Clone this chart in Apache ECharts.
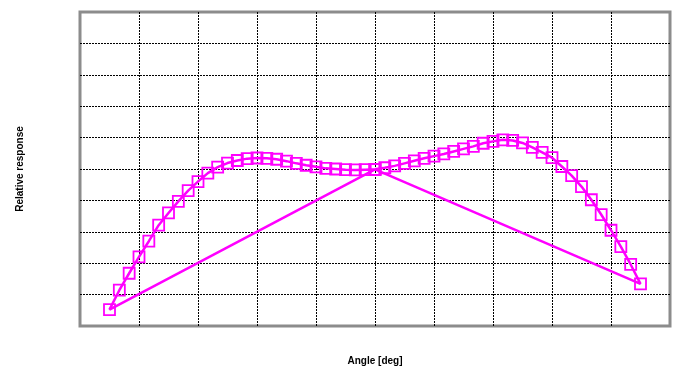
<!DOCTYPE html>
<html>
<head>
<meta charset="utf-8">
<script src="https://cdn.jsdelivr.net/npm/echarts@6/dist/echarts.min.js"></script>
<style>
  html, body { margin: 0; padding: 0; background: #fff; }
  #chart { width: 678px; height: 367px; }
</style>
</head>
<body>
<div id="chart"></div>
<script>
// sweep in recorded order: starts at 0 deg, jumps to -81, sweeps to +81, returns to 0
var angles = [0,
    -81, -78, -75, -72, -69, -66, -63, -60, -57, -54,
    -51, -48, -45, -42, -39, -36, -33, -30, -27, -24,
    -21, -18, -15, -12, -9, -6, -3, 0, 3, 6,
    9, 12, 15, 18, 21, 24, 27, 30, 33, 36,
    39, 42, 45, 48, 51, 54, 57, 60, 63, 66,
    69, 72, 75, 78, 81,
    0];
var response = [0.499,
    0.052, 0.114, 0.168, 0.220, 0.270, 0.321, 0.360, 0.397, 0.431, 0.460,
    0.487, 0.506, 0.519, 0.527, 0.533, 0.535, 0.534, 0.531, 0.525, 0.518,
    0.512, 0.507, 0.502, 0.500, 0.498, 0.497, 0.498, 0.499, 0.504, 0.510,
    0.518, 0.526, 0.534, 0.541, 0.548, 0.556, 0.564, 0.572, 0.582, 0.588,
    0.593, 0.591, 0.583, 0.569, 0.553, 0.536, 0.508, 0.479, 0.444, 0.402,
    0.355, 0.305, 0.253, 0.196, 0.134,
    0.499];

initChart();

function initChart() {
    var dom = document.getElementById("chart");
    var myChart = echarts.init(dom, null, { renderer: 'canvas' });

    var data = [];
    for (var i = 0; i < angles.length; i++) {
        data.push([angles[i], response[i]]);
    }

    var gridLine = {
        show: true,
        showMinLine: false,
        showMaxLine: false,
        lineStyle: { color: '#000', width: 1, type: [2, 1] }
    };

    var option = {
        animation: false,
        backgroundColor: '#fff',
        grid: {
            left: 80,
            right: 8,
            top: 12,
            bottom: 41,
            outerBoundsMode: 'none',
            containLabel: false,
            show: true,
            borderColor: '#8c8c8c',
            borderWidth: 3,
            backgroundColor: 'transparent'
        },
        xAxis: {
            type: 'value',
            min: -90,
            max: 90,
            interval: 18,
            name: 'Angle [deg]',
            nameLocation: 'middle',
            nameGap: 30,
            nameTextStyle: {
                fontFamily: 'Liberation Sans',
                fontWeight: 'bold',
                fontSize: 10,
                color: '#000'
            },
            axisLine: { show: false },
            axisTick: { show: false },
            axisLabel: { show: false },
            splitLine: gridLine
        },
        yAxis: {
            type: 'value',
            min: 0,
            max: 1,
            interval: 0.1,
            name: 'Relative response',
            nameLocation: 'middle',
            nameGap: 55,
            nameTextStyle: {
                fontFamily: 'Liberation Sans',
                fontWeight: 'bold',
                fontSize: 10,
                color: '#000'
            },
            axisLine: { show: false },
            axisTick: { show: false },
            axisLabel: { show: false },
            splitLine: gridLine
        },
        series: [
            {
                type: 'line',
                data: data,
                symbol: 'rect',
                symbolSize: 11,
                showAllSymbol: true,
                lineStyle: { color: '#ff00ff', width: 2.5 },
                itemStyle: {
                    color: 'transparent',
                    borderColor: '#ff00ff',
                    borderWidth: 1.8
                }
            }
        ]
    };

    myChart.setOption(option);
    window.addEventListener("resize", function () {
        myChart.resize();
    });
}
</script>
</body>
</html>
